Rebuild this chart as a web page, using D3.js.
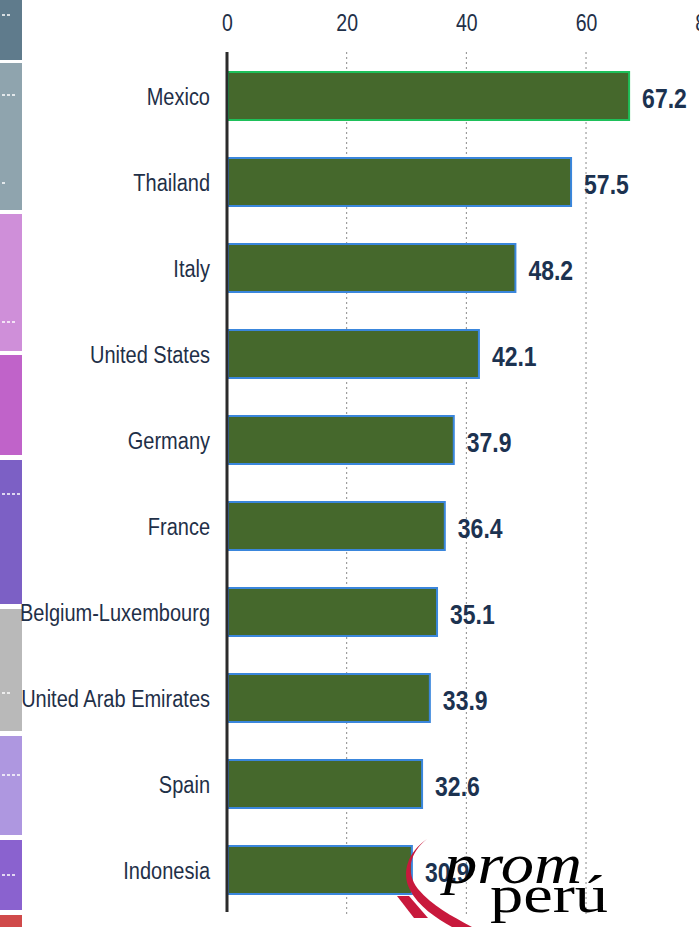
<!DOCTYPE html>
<html>
<head>
<meta charset="utf-8">
<script src="https://cdn.jsdelivr.net/npm/d3@7"></script>
<style>
  html, body { margin: 0; padding: 0; background: #fff; }
  svg { display: block; }
  .lbl { font-family: "Liberation Sans", Arial, sans-serif; }
</style>
</head>
<body>
<svg id="chart" width="699" height="927"></svg>
<script>
const countries = ["Mexico", "Thailand", "Italy", "United States", "Germany", "France",
  "Belgium-Luxembourg", "United Arab Emirates", "Spain", "Indonesia"];
const values = [67.2, 57.5, 48.2, 42.1, 37.9, 36.4, 35.1, 33.9, 32.6, 30.9];
const valueLabels = ["67.2", "57.5", "48.2", "42.1", "37.9", "36.4", "35.1", "33.9", "32.6", "30.9"];
const tickValues = [0, 20, 40, 60, 80];
const highlight = ["Mexico"];

const W = 699, H = 927;
const SY = 1.24; // vertical stretch of the lettering
const svg = d3.select("#chart");

// decorative coloured strip on the left edge
const strip = [
  [0, 60, "#5f7b8c"], [63, 210, "#8fa4ae"], [214, 351, "#cf8fd9"], [355, 455, "#c063c9"],
  [460, 604, "#7c60c5"], [609, 731, "#b9b9b9"], [736, 835, "#ae97e0"], [840, 910, "#8a62cf"],
  [915, 927, "#d04a4a"]
];
svg.append("g").selectAll("rect").data(strip).join("rect")
  .attr("x", 0).attr("width", 22)
  .attr("y", d => d[0]).attr("height", d => d[1] - d[0])
  .attr("fill", d => d[2]);
const dashes = [[15, 2], [95, 3], [183, 1], [322, 3], [494, 4], [693, 2], [775, 4], [875, 3]];
svg.append("g").selectAll("g").data(dashes).join("g").each(function(d) {
  d3.select(this).selectAll("rect").data(d3.range(d[1])).join("rect")
    .attr("x", i => 2 + i * 5).attr("y", d[0] - 1).attr("width", 3).attr("height", 2)
    .attr("fill", "rgba(255,255,255,0.75)");
});

const x = d3.scaleLinear().domain([0, 80]).range([227, 705.7]);
const y = d3.scaleBand().domain(countries).range([34, 932]).padding(0.442);

// gridlines
svg.append("g").selectAll("line").data(tickValues.filter(v => v > 0)).join("line")
  .attr("x1", d => x(d)).attr("x2", d => x(d))
  .attr("y1", 52).attr("y2", 916)
  .attr("stroke", "#8a8a8a").attr("stroke-width", 1).attr("stroke-dasharray", "2,3");

// top axis
const axis = d3.axisTop(x).tickValues(tickValues).tickSize(0).tickPadding(0).tickFormat(d3.format("d"));
const ax = svg.append("g").attr("transform", "translate(0,31)").call(axis);
ax.select(".domain").remove();
ax.selectAll("text").attr("class", "lbl").attr("font-size", 19.5).attr("fill", "#1f3048")
  .attr("dy", 0).attr("transform", `scale(1,${SY})`).attr("y", 0);

// bars
svg.append("g").selectAll("rect").data(countries).join("rect")
  .attr("x", x(0) + 1)
  .attr("y", d => y(d))
  .attr("width", (d, i) => x(values[i]) - x(0) - 1)
  .attr("height", y.bandwidth())
  .attr("fill", "#45682c")
  .attr("stroke", d => highlight.includes(d) ? "#1ec05a" : "#3a86dc")
  .attr("stroke-width", 2);

// vertical axis line
svg.append("line").attr("x1", x(0)).attr("x2", x(0)).attr("y1", 52).attr("y2", 912)
  .attr("stroke", "#2b2b2b").attr("stroke-width", 3);

// category labels
svg.append("g").selectAll("text").data(countries).join("text")
  .attr("class", "lbl")
  .attr("transform", d => `translate(210,${y(d) + y.bandwidth() / 2}) scale(1,${SY})`)
  .attr("dy", "0.36em").attr("text-anchor", "end")
  .attr("font-size", 20).attr("fill", "#1f3048")
  .text(d => d);

// value labels
svg.append("g").selectAll("text").data(countries).join("text")
  .attr("class", "lbl")
  .attr("transform", (d, i) => `translate(${x(values[i]) + 13},${y(d) + y.bandwidth() / 2 + 2}) scale(1,1.18)`)
  .attr("dy", "0.36em")
  .attr("font-size", 23).attr("font-weight", "bold").attr("fill", "#1c3250")
  .text((d, i) => valueLabels[i]);

// promperú logo (decoration)
const logo = svg.append("g");
logo.append("path")
  .attr("d", "M427,839 C410,852 405,872 418,889 C432,906 452,916 472,927 L452,927 C436,918 418,906 410,890 C401,872 408,852 427,839 Z")
  .attr("fill", "#c8193c");
logo.append("path")
  .attr("d", "M397,896 L409,896 L428,918 L414,918 Z")
  .attr("fill", "#c8193c");
logo.append("text")
  .attr("x", 444).attr("y", 883)
  .attr("font-family", "Liberation Serif, serif").attr("font-style", "italic")
  .attr("font-size", 58).attr("fill", "#000")
  .attr("textLength", 138).attr("lengthAdjust", "spacingAndGlyphs")
  .text("prom");
logo.append("text")
  .attr("x", 490).attr("y", 912)
  .attr("font-family", "Liberation Serif, serif")
  .attr("font-size", 52).attr("fill", "#000")
  .attr("textLength", 118).attr("lengthAdjust", "spacingAndGlyphs")
  .text("perú");
</script>
</body>
</html>
